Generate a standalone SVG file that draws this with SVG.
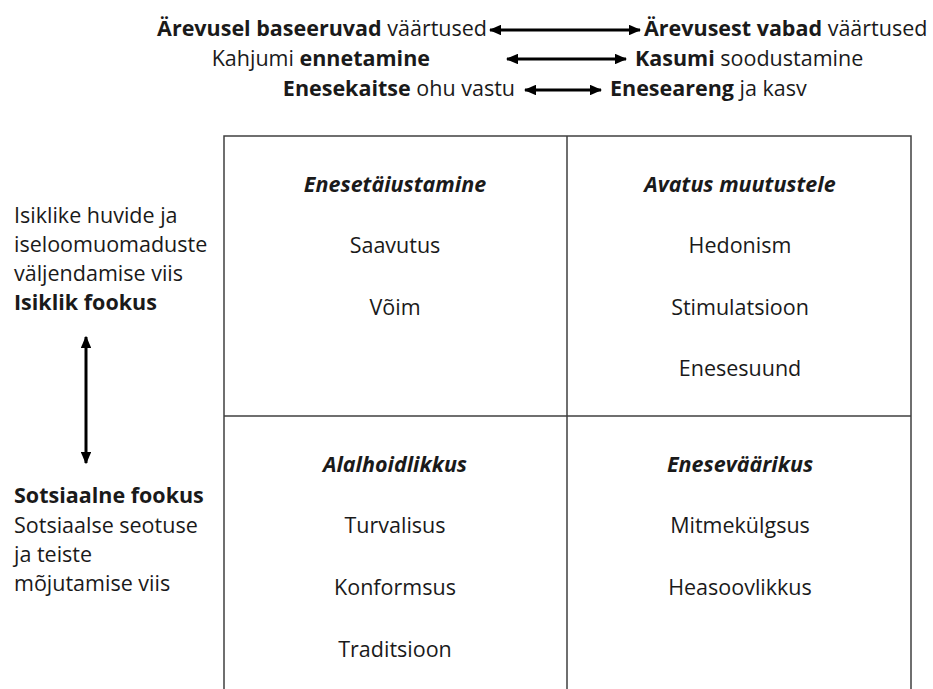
<svg xmlns="http://www.w3.org/2000/svg" width="933" height="689" viewBox="0 0 933 689">
<defs>
<style>
text{font-family:"Open Sans","Noto Sans",sans-serif;fill:#1a1a1a;font-size:21.5px}
.b{font-weight:bold}
.h{font-weight:bold;font-style:italic}
.c{text-anchor:middle}
.e{text-anchor:end}
.grid{stroke:#404040;stroke-width:1.5;fill:none}
.arr{stroke:#000;stroke-width:3;fill:none;marker-start:url(#ah);marker-end:url(#ah)}
</style>
<marker id="ah" viewBox="0 0 10 10" refX="9" refY="5" markerWidth="4.2" markerHeight="3.6" orient="auto-start-reverse" markerUnits="strokeWidth" preserveAspectRatio="none">
<path d="M0,0 L10,5 L0,10 Z" fill="#000"/>
</marker>
</defs>
<rect width="933" height="689" fill="#fff"/>
<g id="top-labels">
<text x="487" y="36" class="e"><tspan class="b">Ärevusel baseeruvad</tspan> väärtused</text>
<text x="644" y="36"><tspan class="b">Ärevusest vabad</tspan> väärtused</text>
<text x="430" y="66" class="e">Kahjumi <tspan class="b">ennetamine</tspan></text>
<text x="635" y="66"><tspan class="b">Kasumi</tspan> soodustamine</text>
<text x="515" y="96" class="e"><tspan class="b">Enesekaitse</tspan> ohu vastu</text>
<text x="610" y="96"><tspan class="b">Eneseareng</tspan> ja kasv</text>
</g>
<g id="left-labels">
<text x="14" y="223">Isiklike huvide ja</text>
<text x="14" y="252">iseloomuomaduste</text>
<text x="14" y="281">väljendamise viis</text>
<text x="14" y="310" class="b">Isiklik fookus</text>
<text x="14" y="503" class="b">Sotsiaalne fookus</text>
<text x="14" y="533">Sotsiaalse seotuse</text>
<text x="14" y="562">ja teiste</text>
<text x="14" y="591">mõjutamise viis</text>
</g>
<g id="grid">
<path class="grid" d="M224,689 V136 H911 V689 M567,136 V689 M224,416 H911"/>
</g>
<g id="cell-enesetaiustamine">
<text x="395" y="192" class="c h">Enesetäiustamine</text>
<text x="395" y="253" class="c">Saavutus</text>
<text x="395" y="315" class="c">Võim</text>
</g>
<g id="cell-avatus">
<text x="740" y="192" class="c h">Avatus muutustele</text>
<text x="740" y="253" class="c">Hedonism</text>
<text x="740" y="315" class="c">Stimulatsioon</text>
<text x="740" y="376" class="c">Enesesuund</text>
</g>
<g id="cell-alalhoidlikkus">
<text x="395" y="472" class="c h">Alalhoidlikkus</text>
<text x="395" y="533" class="c">Turvalisus</text>
<text x="395" y="595" class="c">Konformsus</text>
<text x="395" y="657" class="c">Traditsioon</text>
</g>
<g id="cell-eneseuletus">
<text x="740" y="472" class="c h">Eneseväärikus</text>
<text x="740" y="533" class="c">Mitmekülgsus</text>
<text x="740" y="595" class="c">Heasoovlikkus</text>
</g>
<g id="connectors">
<line class="arr" x1="490" y1="30" x2="640" y2="30"/>
<line class="arr" x1="507" y1="59" x2="626" y2="59"/>
<line class="arr" x1="525" y1="90" x2="601" y2="90"/>
<line class="arr" x1="86" y1="337" x2="86" y2="463"/>
</g>
</svg>
